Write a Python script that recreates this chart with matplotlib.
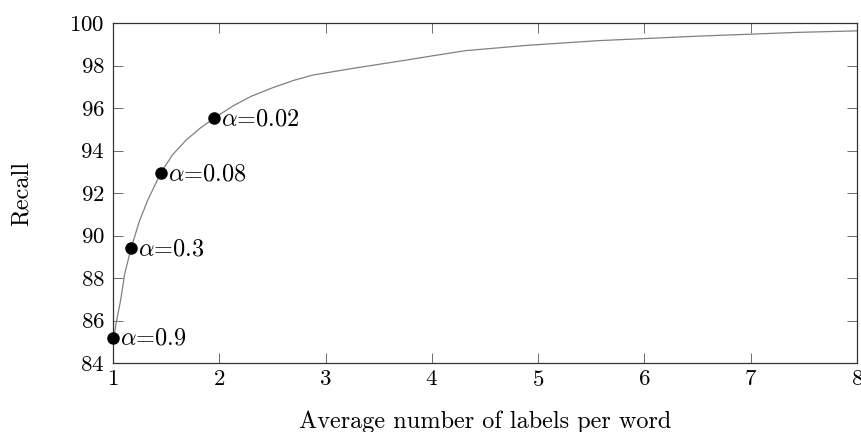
import numpy as np
import matplotlib.pyplot as plt

plt.rcParams['font.family'] = 'serif'
plt.rcParams['font.serif'] = ['cmr10']
plt.rcParams['mathtext.fontset'] = 'cm'
plt.rcParams['axes.formatter.use_mathtext'] = True

# curve (avg labels per word vs recall)
curve_x = [1.0, 1.03, 1.07, 1.11, 1.17, 1.25, 1.33, 1.45, 1.56, 1.69, 1.82, 1.96, 2.13, 2.3, 2.5, 2.7, 2.88, 3.3, 3.69, 4.0, 4.32, 4.9, 5.57, 6.5, 7.45, 8.0]
curve_y = [84.9, 85.9, 86.9, 88.2, 89.4, 90.7, 91.7, 92.95, 93.8, 94.5, 95.05, 95.55, 96.1, 96.55, 96.95, 97.3, 97.55, 97.9, 98.2, 98.45, 98.7, 98.95, 99.17, 99.38, 99.56, 99.63]

# marked thresholds
pt_x = [1.0, 1.17, 1.45, 1.95]
pt_y = [85.2, 89.4, 92.95, 95.55]
pt_labels = ['0.9', '0.3', '0.08', '0.02']

fig = plt.figure(figsize=(8.62, 4.32), dpi=100)
ax = fig.add_axes([113 / 862, 69 / 432, 744 / 862, 340 / 432])

ax.plot(curve_x, curve_y, color='#808080', lw=0.9, zorder=2)
ax.plot(pt_x, pt_y, 'o', color='black', ms=8, zorder=3, clip_on=False)
for x, y, lab in zip(pt_x, pt_y, pt_labels):
    ax.annotate(r'$\alpha$=' + lab, (x, y), xytext=(5, -1), textcoords='offset points',
                ha='left', va='center', fontsize=17.5)

ax.set_xlim(1, 8)
ax.set_ylim(84, 100)
ax.set_xticks(range(1, 9))
ax.set_yticks(range(84, 101, 2))
ax.tick_params(direction='in', length=7, width=0.6, color='#555555',
               top=True, right=True, labelsize=16.5)
ax.tick_params(axis='x', pad=5)
ax.tick_params(axis='y', pad=6)
for s in ax.spines.values():
    s.set_color('#333333')
    s.set_linewidth(0.9)

ax.set_xlabel('Average number of labels per word', fontsize=17.5, va='baseline')
ax.xaxis.set_label_coords(0.5, -0.19)
ax.set_ylabel('Recall', fontsize=17.5, va='center')
ax.yaxis.set_label_coords(-0.123, 0.5)

fig.savefig('out.png', dpi=100)
